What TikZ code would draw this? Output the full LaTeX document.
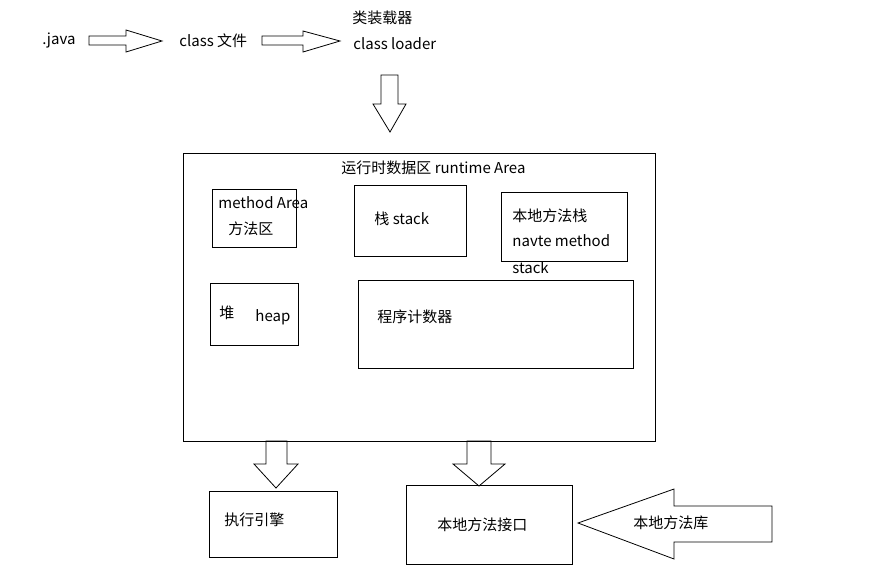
\documentclass[tikz,border=0pt]{standalone}
\usepackage{fontspec}
\setmainfont{Noto Sans CJK SC}
\usepackage{xcolor}
\definecolor{linegray}{HTML}{000000}

\begin{document}
\begin{tikzpicture}[x=1pt,y=-1pt,line width=0.8pt,
  box/.style={draw=linegray, rectangle, inner sep=0pt},
  txt/.style={anchor=west, inner sep=0pt, font=\fontsize{15}{18}\selectfont},
  blockarrow/.style={draw=linegray, line join=miter}]
  \useasboundingbox (0,0) rectangle (885,565);

  \node[txt] (java) at (42,41) {.java};
  \node[txt] (classfile) at (179,41) {class 文件};
  \node[txt] (loadercn) at (352,18) {类装载器};
  \node[txt] (loader) at (353,44) {class loader};

  \draw[blockarrow] (89,36) -- (126,36) -- (126,30) -- (162,41) -- (126,52) -- (126,45) -- (89,45) -- cycle;
  \draw[blockarrow] (262,36) -- (303,36) -- (303,31) -- (340,41) -- (303,52) -- (303,45) -- (262,45) -- cycle;
  \draw[blockarrow] (381,75) -- (398,75) -- (398,104) -- (406,104) -- (390,132) -- (373,104) -- (381,104) -- cycle;

  \node[box, minimum width=472pt, minimum height=288pt] (runtime) at (419,297) {};
  \node[txt] (runtimetxt) at (341,168) {运行时数据区 runtime Area};

  \node[box, minimum width=84pt, minimum height=58pt] (method) at (254,218) {};
  \node[txt] (methodtxt) at (218,203) {method Area};
  \node[txt] (methodcn) at (228,229) {方法区};

  \node[box, minimum width=112pt, minimum height=71pt] (stack) at (410,220.5) {};
  \node[txt] (stacktxt) at (374,219) {栈 stack};

  \node[box, minimum width=126pt, minimum height=69pt] (native) at (564,226.5) {};
  \node[txt] (nativecn) at (512,216) {本地方法栈};
  \node[txt] (nativetxt) at (512,241) {navte method};
  \node[txt] (nativestack) at (512,268) {stack};

  \node[box, minimum width=88pt, minimum height=62pt] (heap) at (254,314) {};
  \node[txt] (heapcn) at (219,313) {堆};
  \node[txt] (heaptxt) at (255,317) {heap};

  \node[box, minimum width=275pt, minimum height=88pt] (pc) at (495.5,324) {};
  \node[txt] (pctxt) at (377,317) {程序计数器};

  \draw[blockarrow] (266,441) -- (287,441) -- (287,464) -- (298,464) -- (276,488) -- (254,464) -- (266,464) -- cycle;
  \draw[blockarrow] (467,441) -- (491,441) -- (491,464) -- (505,464) -- (479,486) -- (453,464) -- (467,464) -- cycle;

  \node[box, minimum width=128pt, minimum height=66pt] (engine) at (273,524) {};
  \node[txt] (enginetxt) at (224,520) {执行引擎};

  \node[box, minimum width=166pt, minimum height=79pt] (jni) at (489,524.5) {};
  \node[txt] (jnitxt) at (437,525) {本地方法接口};

  \draw[blockarrow] (578,523) -- (674,489) -- (674,506) -- (772,506) -- (772,542) -- (674,542) -- (674,559) -- cycle;
  \node[txt] (libtxt) at (633,523) {本地方法库};
\end{tikzpicture}
\end{document}
